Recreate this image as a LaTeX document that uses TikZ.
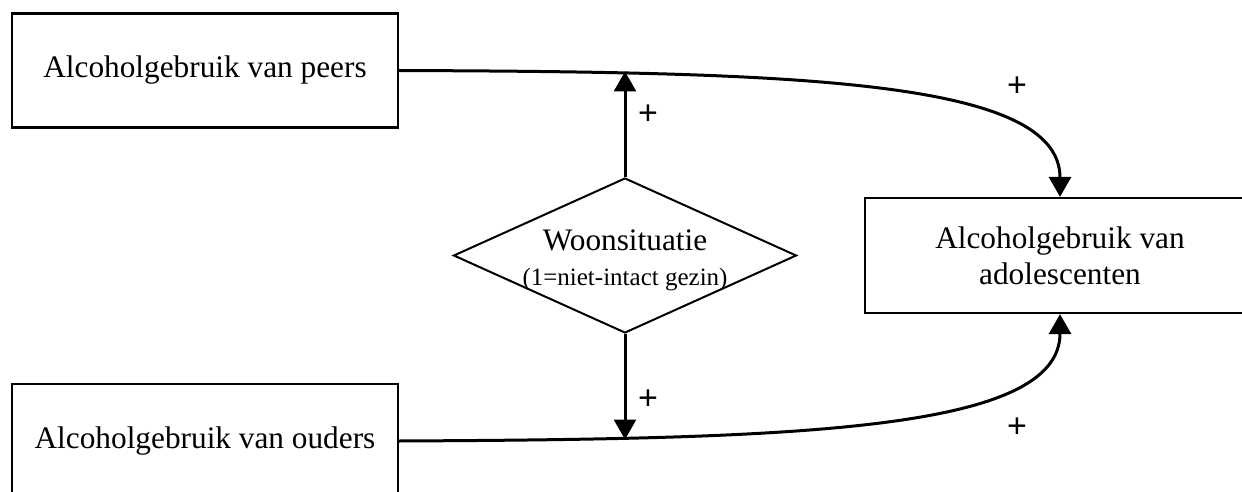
\documentclass[tikz,border=0pt]{standalone}
\usepackage{fontspec}
\setmainfont{Liberation Serif}
\newfontfamily\plusfont{Liberation Sans}
\usetikzlibrary{arrows.meta,shapes.geometric}
\begin{document}
\begin{tikzpicture}[x=1pt,y=-1pt,
  box/.style={draw,line width=2.2pt,minimum width=386pt,minimum height=114pt,inner sep=0pt,
    font=\fontsize{31.3}{36}\selectfont},
  adolbox/.style={draw,line width=2.2pt,minimum width=390pt,minimum height=115pt,inner sep=0pt,
    align=center,font=\fontsize{31.3}{36}\selectfont},
  ruit/.style={draw,diamond,line width=2pt,minimum width=343pt,minimum height=155pt,inner sep=0pt,aspect=2.2},
  conn/.style={line width=3pt,-{Triangle[width=22pt,length=20pt]}},
  plus/.style={font=\plusfont\fontsize{34}{34}\selectfont,inner sep=0pt}]
\clip (0,0) rectangle (1242,492);
\fill[white] (0,0) rectangle (1242,492);
\node[box] (peers) at (205,70.5) {Alcoholgebruik van peers};
\node[box] (ouders) at (205,441) {Alcoholgebruik van ouders};
\node[adolbox] (adol) at (1060,255.5) {Alcoholgebruik van\\adolescenten};
\node[ruit] (woon) at (625,255.5) {};
\node[font=\fontsize{31.3}{36}\selectfont,inner sep=0pt] (woont) at (625,240) {Woonsituatie};
\node[font=\fontsize{25}{28}\selectfont,inner sep=0pt] (woonsub) at (625,280) {(1=niet-intact gezin)};
\coordinate (jt) at (625,71.5);
\coordinate (jb) at (625,439.5);
\draw[conn] (peers.east) .. controls (800,72) and (1060,80) .. (adol.north);
\draw[conn] (ouders.east) .. controls (800,439) and (1060,431) .. (adol.south);
\draw[conn] (woon.north) -- (jt);
\draw[conn] (woon.south) -- (jb);
\node[plus] (p1) at (648,115) {+};
\node[plus] (p2) at (648,400) {+};
\node[plus] (p3) at (1017,87) {+};
\node[plus] (p4) at (1017,428) {+};
\end{tikzpicture}
\end{document}
